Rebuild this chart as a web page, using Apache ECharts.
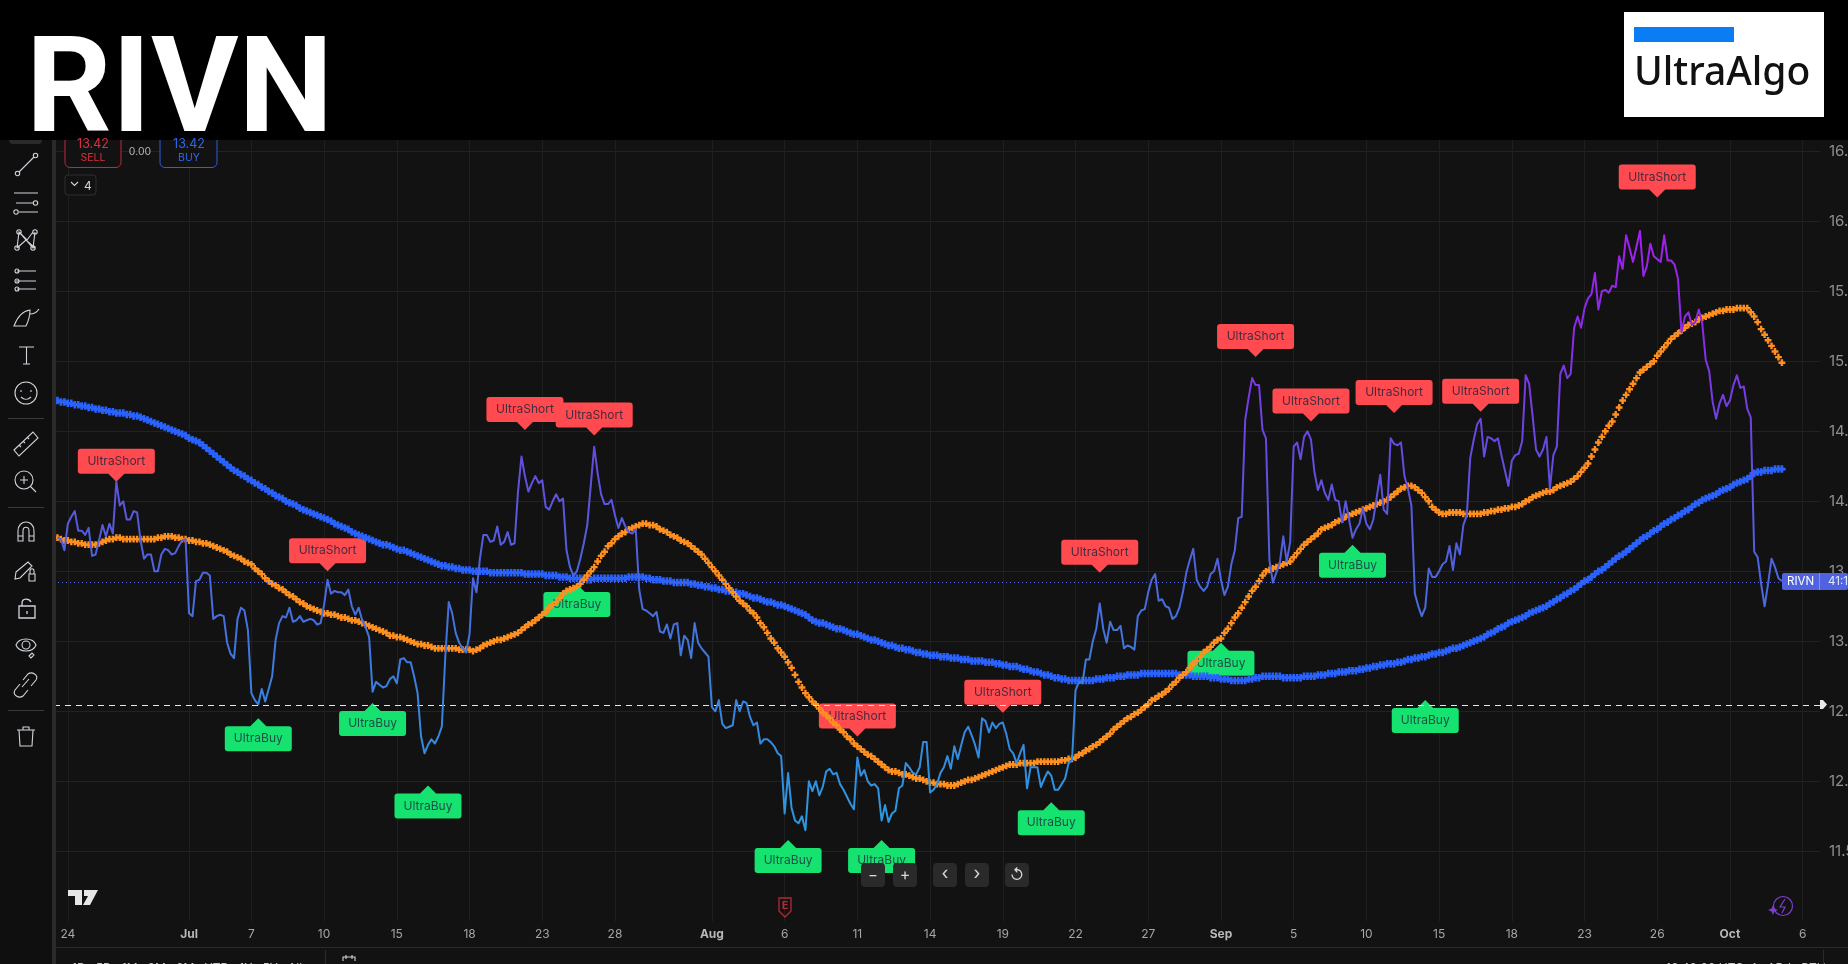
<!DOCTYPE html>
<html>
<head>
<meta charset="utf-8">
<style>html,body{margin:0;padding:0;background:#121212;overflow:hidden}#c{width:1848px;height:964px}</style>
<script src="https://cdn.jsdelivr.net/npm/echarts@6/dist/echarts.min.js"></script>
</head>
<body>
<div id="c"></div>
<script>
const barCount = 511;
const tickBars = [4,39,57,78,99,120,141,162,190,211,232,253,274,295,316,337,358,379,400,421,442,463,484,505];
const tickLabels = ['24','Jul','7','10','15','18','23','28','Aug','6','11','14','19','22','27','Sep','5','10','15','18','23','26','Oct','6'];
const monthLabels = ['Jul','Aug','Sep','Oct'];
const lastPrice = 13.42;
const crosshairPrice = 12.54;

// values start at bar 1 (bar 0 has no data)
const priceValues = [null,
13.74,13.73,13.65,13.84,13.89,13.93,13.79,13.79,13.76,13.81,
13.61,13.62,13.72,13.83,13.75,13.84,13.77,14.14,13.97,14.00,
13.87,13.87,13.93,13.92,13.72,13.59,13.62,13.62,13.50,13.50,
13.62,13.66,13.65,13.62,13.63,13.68,13.72,13.73,13.20,13.18,
13.43,13.44,13.49,13.49,13.47,13.16,13.18,13.19,13.18,12.99,
12.91,12.88,13.16,13.24,13.22,13.08,12.63,12.58,12.55,12.66,
12.57,12.66,12.75,13.01,13.13,13.18,13.17,13.24,13.14,13.15,
13.18,13.14,13.15,13.16,13.15,13.12,13.13,13.26,13.44,13.34,
13.36,13.35,13.35,13.33,13.37,13.25,13.19,13.24,13.15,13.10,
13.03,12.64,12.71,12.69,12.67,12.68,12.73,12.75,12.70,12.87,
12.88,12.85,12.85,12.75,12.63,12.32,12.20,12.26,12.30,12.27,
12.32,12.39,12.89,13.28,13.20,13.06,12.99,12.95,12.92,13.05,
13.45,13.35,13.59,13.76,13.76,13.71,13.72,13.82,13.69,13.71,
13.78,13.69,13.70,14.07,14.32,14.18,14.07,14.13,14.18,14.13,
14.15,13.96,13.94,14.00,14.05,14.00,14.02,13.65,13.53,13.47,
13.50,13.59,13.70,13.83,14.11,14.39,14.20,14.05,13.98,13.98,
14.01,13.90,13.81,13.88,13.82,13.78,13.77,13.80,13.37,13.23,
13.22,13.20,13.18,13.21,13.07,13.06,13.12,13.02,13.12,13.13,
12.90,13.04,13.01,12.88,13.13,12.99,12.95,12.92,12.89,12.53,
12.50,12.58,12.41,12.38,12.39,12.40,12.58,12.50,12.57,12.56,
12.46,12.40,12.42,12.27,12.30,12.30,12.28,12.25,12.20,12.18,
11.77,12.06,11.81,11.72,11.70,11.75,11.65,12.00,11.93,12.00,
11.90,11.96,12.07,12.09,12.05,12.06,11.98,11.94,11.89,11.84,
11.80,12.17,12.04,12.08,12.00,11.97,11.98,11.95,11.72,11.83,
11.71,11.77,11.79,11.95,11.97,12.13,12.10,12.06,12.05,12.10,
12.28,12.28,11.92,11.94,11.98,12.06,12.10,12.18,12.09,12.25,
12.16,12.26,12.35,12.39,12.33,12.26,12.17,12.45,12.43,12.35,
12.42,12.38,12.41,12.42,12.34,12.23,12.20,12.13,12.20,12.26,
11.95,12.10,12.10,12.10,11.96,12.02,12.07,12.04,11.94,11.94,
11.98,12.02,12.13,12.15,12.65,12.71,12.70,12.87,12.87,13.00,
13.09,13.27,13.09,12.99,13.14,13.08,13.08,13.11,12.95,12.97,
12.96,12.94,13.18,13.22,13.23,13.35,13.44,13.48,13.29,13.30,
13.25,13.24,13.16,13.18,13.24,13.35,13.49,13.58,13.66,13.44,
13.39,13.36,13.39,13.48,13.50,13.59,13.44,13.33,13.39,13.55,
13.65,13.88,13.89,14.58,14.74,14.88,14.83,14.83,14.51,14.45,
13.58,13.42,13.49,13.56,13.75,13.57,13.71,14.39,14.42,14.30,
14.46,14.50,14.44,14.21,14.08,14.15,14.06,14.01,14.12,14.01,
14.00,13.85,14.00,13.87,13.74,13.80,13.84,13.95,13.84,13.80,
13.87,14.03,14.19,13.94,13.91,14.45,14.41,14.40,14.42,14.18,
14.09,13.97,13.34,13.25,13.18,13.24,13.52,13.46,13.46,13.50,
13.55,13.57,13.68,13.51,13.70,13.62,13.83,13.90,14.31,14.44,
14.55,14.59,14.32,14.46,14.45,14.43,14.45,14.33,14.22,14.11,
14.29,14.33,14.34,14.43,14.90,14.84,14.61,14.37,14.32,14.37,
14.46,14.09,14.33,14.39,14.91,14.97,14.88,14.91,15.24,15.32,
15.24,15.38,15.45,15.48,15.63,15.37,15.50,15.51,15.49,15.54,
15.53,15.75,15.66,15.90,15.81,15.71,15.82,15.93,15.61,15.68,
15.84,15.75,15.73,15.71,15.90,15.72,15.72,15.69,15.59,15.21,
15.32,15.35,15.26,15.28,15.37,15.27,15.01,14.93,14.71,14.59,
14.70,14.76,14.68,14.72,14.83,14.90,14.81,14.82,14.66,14.60,
13.64,13.60,13.41,13.25,13.41,13.59,13.53,13.45,13.43];

const blueValues = [null,
14.72,14.71,14.71,14.70,14.70,14.69,14.69,14.68,14.68,14.67,
14.67,14.66,14.66,14.65,14.65,14.64,14.64,14.63,14.63,14.63,
14.62,14.62,14.61,14.61,14.60,14.59,14.58,14.57,14.56,14.55,
14.54,14.53,14.52,14.51,14.50,14.49,14.48,14.47,14.45,14.44,
14.43,14.42,14.40,14.38,14.36,14.34,14.32,14.30,14.28,14.26,
14.24,14.22,14.21,14.19,14.18,14.16,14.15,14.13,14.12,14.10,
14.09,14.07,14.06,14.04,14.03,14.02,14.00,13.99,13.98,13.97,
13.95,13.94,13.93,13.92,13.91,13.90,13.89,13.88,13.87,13.86,
13.84,13.83,13.82,13.81,13.80,13.78,13.77,13.76,13.75,13.74,
13.73,13.72,13.71,13.70,13.69,13.69,13.68,13.67,13.66,13.65,
13.65,13.64,13.63,13.62,13.61,13.60,13.59,13.58,13.57,13.56,
13.55,13.54,13.54,13.53,13.53,13.52,13.52,13.51,13.51,13.51,
13.50,13.50,13.50,13.50,13.50,13.49,13.49,13.49,13.49,13.49,
13.49,13.49,13.49,13.49,13.49,13.48,13.48,13.48,13.48,13.48,
13.48,13.47,13.47,13.47,13.47,13.46,13.46,13.46,13.45,13.45,
13.45,13.45,13.45,13.44,13.44,13.45,13.45,13.45,13.45,13.45,
13.45,13.45,13.45,13.45,13.45,13.46,13.46,13.46,13.46,13.46,
13.45,13.45,13.44,13.44,13.44,13.43,13.43,13.43,13.42,13.42,
13.42,13.42,13.42,13.41,13.41,13.40,13.40,13.39,13.39,13.38,
13.38,13.37,13.37,13.36,13.36,13.35,13.35,13.34,13.34,13.33,
13.32,13.31,13.31,13.30,13.29,13.28,13.28,13.27,13.26,13.26,
13.25,13.24,13.23,13.22,13.21,13.20,13.19,13.17,13.15,13.14,
13.13,13.13,13.12,13.11,13.10,13.09,13.09,13.08,13.07,13.06,
13.05,13.05,13.04,13.03,13.02,13.01,13.01,13.00,12.99,12.98,
12.97,12.97,12.96,12.95,12.95,12.94,12.94,12.93,12.92,12.92,
12.91,12.91,12.90,12.90,12.90,12.89,12.89,12.89,12.88,12.88,
12.88,12.87,12.87,12.87,12.86,12.86,12.86,12.86,12.85,12.85,
12.85,12.84,12.84,12.83,12.83,12.82,12.82,12.82,12.81,12.80,
12.80,12.79,12.78,12.78,12.77,12.76,12.76,12.75,12.74,12.74,
12.73,12.73,12.72,12.72,12.72,12.72,12.72,12.72,12.72,12.72,
12.73,12.73,12.73,12.74,12.74,12.74,12.75,12.75,12.75,12.76,
12.76,12.76,12.76,12.77,12.77,12.77,12.77,12.77,12.77,12.77,
12.77,12.77,12.77,12.77,12.76,12.76,12.76,12.76,12.75,12.75,
12.75,12.75,12.75,12.74,12.74,12.74,12.73,12.73,12.73,12.72,
12.72,12.72,12.72,12.72,12.73,12.73,12.74,12.74,12.75,12.75,
12.75,12.75,12.75,12.75,12.74,12.74,12.74,12.74,12.74,12.74,
12.75,12.75,12.75,12.75,12.76,12.76,12.76,12.77,12.77,12.77,
12.78,12.78,12.78,12.79,12.79,12.79,12.80,12.80,12.81,12.81,
12.82,12.82,12.83,12.83,12.84,12.84,12.84,12.85,12.85,12.86,
12.87,12.87,12.88,12.88,12.89,12.89,12.90,12.91,12.91,12.92,
12.92,12.93,12.94,12.95,12.95,12.96,12.97,12.98,12.99,13.00,
13.01,13.02,13.03,13.05,13.06,13.07,13.09,13.10,13.11,13.13,
13.14,13.15,13.16,13.17,13.18,13.20,13.21,13.22,13.23,13.24,
13.25,13.27,13.28,13.30,13.31,13.33,13.34,13.36,13.37,13.39,
13.41,13.43,13.44,13.46,13.48,13.50,13.51,13.53,13.55,13.57,
13.59,13.61,13.62,13.64,13.66,13.68,13.70,13.72,13.74,13.75,
13.77,13.79,13.80,13.82,13.84,13.85,13.87,13.88,13.90,13.91,
13.93,13.94,13.96,13.98,13.99,14.01,14.02,14.03,14.04,14.05,
14.07,14.08,14.09,14.10,14.12,14.13,14.14,14.15,14.16,14.18,
14.20,14.21,14.21,14.22,14.22,14.22,14.23,14.23,14.23];

const orangeValues = [null,
13.74,13.73,13.72,13.72,13.71,13.71,13.70,13.70,13.69,13.69,
13.69,13.69,13.70,13.71,13.72,13.73,13.73,13.74,13.74,13.73,
13.73,13.73,13.73,13.73,13.73,13.73,13.73,13.73,13.73,13.74,
13.74,13.75,13.75,13.75,13.74,13.74,13.73,13.73,13.72,13.72,
13.71,13.71,13.70,13.70,13.69,13.68,13.67,13.66,13.65,13.64,
13.62,13.61,13.60,13.59,13.57,13.56,13.55,13.52,13.50,13.48,
13.45,13.43,13.41,13.40,13.38,13.37,13.35,13.33,13.32,13.30,
13.28,13.27,13.25,13.24,13.23,13.22,13.21,13.20,13.20,13.19,
13.19,13.18,13.17,13.17,13.16,13.15,13.15,13.14,13.13,13.12,
13.11,13.10,13.09,13.08,13.07,13.06,13.04,13.04,13.03,13.03,
13.02,13.01,13.00,12.99,12.98,12.98,12.97,12.97,12.96,12.95,
12.95,12.95,12.95,12.95,12.95,12.95,12.94,12.94,12.94,12.94,
12.93,12.94,12.95,12.97,12.98,12.99,13.00,13.01,13.01,13.02,
13.03,13.04,13.05,13.06,13.08,13.10,13.12,13.13,13.15,13.17,
13.19,13.21,13.24,13.26,13.28,13.31,13.34,13.36,13.37,13.38,
13.39,13.41,13.44,13.47,13.50,13.53,13.57,13.61,13.64,13.68,
13.70,13.73,13.75,13.77,13.78,13.80,13.81,13.82,13.83,13.84,
13.84,13.83,13.83,13.82,13.80,13.79,13.78,13.76,13.75,13.74,
13.72,13.71,13.70,13.68,13.66,13.64,13.62,13.59,13.56,13.53,
13.50,13.47,13.44,13.41,13.38,13.35,13.32,13.29,13.27,13.25,
13.22,13.20,13.17,13.13,13.10,13.06,13.02,12.99,12.95,12.92,
12.89,12.85,12.81,12.76,12.71,12.67,12.63,12.60,12.57,12.55,
12.52,12.49,12.47,12.45,12.42,12.40,12.37,12.35,12.32,12.30,
12.27,12.25,12.23,12.21,12.19,12.18,12.16,12.14,12.12,12.10,
12.08,12.07,12.07,12.06,12.05,12.05,12.04,12.03,12.02,12.02,
12.01,12.00,11.99,11.99,11.98,11.98,11.98,11.97,11.97,11.97,
11.98,11.99,12.00,12.01,12.01,12.02,12.03,12.04,12.05,12.06,
12.07,12.08,12.09,12.10,12.11,12.12,12.12,12.12,12.13,12.13,
12.13,12.13,12.13,12.14,12.14,12.14,12.14,12.14,12.14,12.14,
12.15,12.15,12.16,12.16,12.17,12.19,12.20,12.22,12.23,12.25,
12.26,12.28,12.30,12.32,12.34,12.37,12.39,12.41,12.43,12.45,
12.46,12.48,12.49,12.51,12.53,12.55,12.58,12.59,12.61,12.62,
12.64,12.66,12.69,12.71,12.74,12.76,12.78,12.81,12.84,12.86,
12.89,12.92,12.94,12.96,12.99,13.01,13.02,13.06,13.09,13.13,
13.17,13.20,13.24,13.28,13.32,13.36,13.39,13.43,13.47,13.50,
13.51,13.52,13.53,13.54,13.55,13.56,13.57,13.60,13.63,13.66,
13.69,13.71,13.73,13.75,13.77,13.80,13.81,13.82,13.83,13.85,
13.86,13.87,13.89,13.90,13.91,13.92,13.93,13.94,13.95,13.96,
13.97,13.98,13.99,14.00,14.01,14.03,14.05,14.07,14.09,14.10,
14.11,14.11,14.10,14.08,14.06,14.03,14.00,13.96,13.94,13.92,
13.91,13.91,13.92,13.92,13.92,13.92,13.91,13.91,13.91,13.91,
13.91,13.91,13.92,13.92,13.93,13.93,13.94,13.94,13.95,13.95,
13.96,13.96,13.97,13.98,14.00,14.01,14.03,14.04,14.05,14.06,
14.07,14.07,14.08,14.10,14.11,14.12,14.13,14.14,14.16,14.18,
14.21,14.24,14.27,14.32,14.37,14.42,14.46,14.50,14.54,14.57,
14.62,14.67,14.72,14.76,14.80,14.84,14.88,14.92,14.94,14.96,
14.98,15.00,15.04,15.07,15.10,15.13,15.16,15.18,15.20,15.22,
15.24,15.26,15.27,15.28,15.30,15.31,15.32,15.33,15.34,15.35,
15.36,15.36,15.37,15.37,15.37,15.38,15.38,15.38,15.38,15.35,
15.32,15.28,15.23,15.19,15.15,15.11,15.07,15.03,14.99];

const shortBars = [18,136,156,79,232,274,302,347,363,387,412,463];
const shortValues = [14.14,14.51,14.47,13.50,12.32,12.49,13.49,15.03,14.57,14.63,14.64,16.17];
const buyBars = [59,92,108,151,212,239,288,337,375,396];
const buyValues = [12.45,12.56,11.97,13.41,11.58,11.58,11.85,12.99,13.69,12.58];

const categories = [];
for (let i = 0; i < barCount; i++) { const k = tickBars.indexOf(i); categories.push(k >= 0 ? tickLabels[k] : ''); }

const plus = 'path://M1.6,0h1.8v1.6h1.6v1.8h-1.6v1.6h-1.8v-1.6h-1.6v-1.8h1.6z';
const shortShape = 'path://M3,0H74Q77,0 77,3V22Q77,25 74,25H46.5L38.5,33L30.5,25H3Q0,25 0,22V3Q0,0 3,0Z';
const buyShape = 'path://M33.5,0L41.5,8H64Q67,8 67,11V30Q67,33 64,33H3Q0,33 0,30V11Q0,8 3,8H25.5Z';
const ff = 'Inter, Roboto, sans-serif';
const grey = '#d1d4dc';

let shapeCount = 0;
function pathEl(d, z, style) {
  const name = 'decor' + (shapeCount++);
  echarts.graphic.registerShape(name, echarts.graphic.extendPath(d));
  return {type:name, z:z, silent:true, shape:{}, style:style};
}
function icon(d, w) { return pathEl(d, 950, {fill:'none', stroke:grey, lineWidth:w||1.1}); }
function txt(t, x, y, fs, col, extra) {
  return {type:'text', z:950, x, y, silent:true, style:Object.assign({text:t, fontSize:fs, fill:col, fontFamily:ff, align:'left', verticalAlign:'middle'}, extra||{})};
}
function box(x, y, w, h, fill, stroke, r, z) {
  return {type:'rect', z:z||940, silent:true, shape:{x, y, width:w, height:h, r:r===undefined?4:r}, style:{fill:fill, stroke:stroke||'none', lineWidth:1}};
}
const circ = (x,y,r)=>`M${x-r},${y}a${r},${r} 0 1,0 ${2*r},0a${r},${r} 0 1,0 ${-2*r},0`;

const graphics = [
  box(0,0,1848,140,'#000000','none',0,900),
  box(1624,12,200,105,'#ffffff','none',0,950),
  box(1634,27,100,15,'#0a7df5','none',0,951),
  {type:'text', z:951, x:1634, y:74, silent:true, style:{text:'UltraAlgo', fontSize:39, fontFamily:'"Noto Sans", sans-serif', fontWeight:500, fill:'#111', align:'left', verticalAlign:'middle'}},
  box(0,140,52,824,'#0f0f0f','none',0,800),
  box(52,140,4,824,'#2a2a2a','none',0,801),
  box(9,130,33,14,'#2a2a2a','none',4,810),
  box(56,947,1792,1,'#2a2a2a','none',0,800),
  box(56,948,1792,16,'#121212','none',0,799),
  box(65,120,56,47.5,'#121212','#c2283a',5,850),
  txt('13.42',93,144,12.5,'#d8303f',{align:'center'}),
  txt('SELL',93,158,10.5,'#d8303f',{align:'center'}),
  txt('0.00',140,152,10.5,'#b4b4b4',{align:'center'}),
  box(160,120,57,47.5,'#121212','#2a5fdd',5,850),
  txt('13.42',189,144,12.5,'#2f66e8',{align:'center'}),
  txt('BUY',189,158,10.5,'#2f66e8',{align:'center'}),
  box(65,175,31,20,'#121212','#2e2e2e',3,850),
  icon('M71,182l3.5,3.5l3.5,-3.5'),
  txt('4',84,186,12,'#d1d4dc'),
  icon('M19,172L34,157'+circ(17.5,173.5,2.2)+circ(35.5,155.5,2.2)),
  icon('M14,193H38M16,203H33M19,212H38'+circ(35.5,203,2.2)+circ(16,212,2.2)),
  icon('M17,248L19,232L33,248L35,232M19,232L27,240L33,232M17,248L26,240L35,248'+circ(17,248,2.2)+circ(19,232,2.2)+circ(33,248,2.2)+circ(35,232,2.2)),
  icon('M17,271H36M16,281H36M17,289H36'+circ(17,271,2)+circ(17,281,2)+circ(17,289,2)),
  icon('M14,326H26C29,320 30,316 30,310C22,311 17,318 14,326ZM30,314C33,314 37,312 39,309'),
  icon('M19,347H34M26.5,347V364M23,364H30'),
  icon(circ(26,393,11)+'M21,390v2M31,390v2M21,397C24,400 28,400 31,397'),
  box(8,418,36,1,'#3a3a3a','none',0,950),
  icon('M14,450L33,432L38,438L19,456ZM19,445l2,2M23,441l2,2M27,437l2,2'),
  icon(circ(24,480,9)+'M30.5,486.5L36,492M24,476v8M20,480h8'),
  box(8,507,36,1,'#3a3a3a','none',0,950),
  icon('M18,541V531C18,519 34,519 34,531V541H29V531C29,526 23,526 23,531V541ZM18,536H23M29,536H34'),
  icon('M16,572L28,562L32,566L20,578L15,579ZM29,574H35V581H29ZM30,574V571C30,568 34,568 34,571V574'),
  icon('M19,606H35V618H19ZM22,606V603C22,598 29,598 31,602M27,611v3',1.3),
  icon('M16,645C19,637 33,637 36,645C33,653 19,653 16,645Z'+circ(26,645,4)+'M29,656l3,-3l2,2l-3,3z'),
  icon('M20,684L15,690C12,695 19,699 23,696L28,690M31,686L36,680C39,675 32,671 28,674L23,680M22,687L29,679'),
  box(8,710,36,1,'#3a3a3a','none',0,950),
  icon('M19,730H33L32,746H20ZM17,730H35M23,730V727H29V730'),
  pathEl('M68,890H82V905H75V896H68ZM84,890H98L90,905H83L88,896H84Z', 700, {fill:'#e6e6e6'}),
  pathEl('M779,898H791V911L785,917L779,911Z', 700, {fill:'none', stroke:'#b22833', lineWidth:1.3}),
  txt('E',785,906,11,'#b22833',{align:'center',fontWeight:700}),
  box(861,863,24,24,'#2a2a2a'), txt('\u2212',873,875,15,'#d8d8d8',{align:'center'}),
  box(893,863,24,24,'#2a2a2a'), txt('+',905,875,16,'#d8d8d8',{align:'center'}),
  box(933,863,24,24,'#2a2a2a'), txt('\u2039',945,874,18,'#d8d8d8',{align:'center'}),
  box(965,863,24,24,'#2a2a2a'), txt('\u203A',977,874,18,'#d8d8d8',{align:'center'}),
  box(1005,863,24,24,'#2a2a2a'), txt('\u21BA',1017,875,15,'#d8d8d8',{align:'center'}),
  pathEl(circ(1783,906,9.5)+'M1785,899L1780,907H1785L1782,913', 700, {fill:'none', stroke:'#7b3fd0', lineWidth:1.2}),
  pathEl('M1773,905l1.5,3.5l3.5,1.5l-3.5,1.5l-1.5,3.5l-1.5,-3.5l-3.5,-1.5l3.5,-1.5z', 700, {fill:'#7b3fd0'}),
  box(1782,573,66,17,'#4f63e0','none',2,700),
  box(1819,573,1,17,'#8794ea','none',0,701),
  txt('RIVN',1787,582,11.5,'#ffffff'),
  txt('41:12',1828,582,11.5,'#e8ebff'),
  pathEl('M1820,700H1823L1827,704.5L1823,709H1820Z', 700, {fill:'#e8e8e8'}),
  txt('1D   5D   1M   3M   6M   YTD   1Y   5Y   All',72,968,12,'#c8c8c8'),
  box(325,950,1,14,'#2a2a2a','none',0,950),
  icon('M343,961V957H355V961M346,955V959M352,955V959'),
  txt('16:48:08 UTC-4   ADJ   RTH',1666,968,12,'#c8c8c8'),
  box(1823,950,1,14,'#2a2a2a','none',0,950)
];

const chart = echarts.init(document.getElementById('c'), null, {renderer:'canvas'});
chart.setOption({
  animation:false,
  backgroundColor:'#121212',
  title:{text:'RIVN', left:21, top:25, z:1000, textStyle:{color:'#ffffff', fontSize:134, fontWeight:'bold', fontFamily:'Roboto, "Liberation Sans", sans-serif', lineHeight:134}},
  grid:{left:54, right:28, top:81.3, bottom:42.7, containLabel:false, outerBoundsMode:'none'},
  xAxis:{
    type:'category', data:categories, boundaryGap:false,
    axisLine:{show:false}, axisTick:{show:false},
    splitLine:{show:true, interval:(i,v)=>v!=='', lineStyle:{color:'#1f1f1f', width:1}},
    axisLabel:{
      interval:(i,v)=>v!=='', margin:7, fontFamily:ff, fontSize:12, color:'#a6a6a6',
      formatter:v=>monthLabels.includes(v)?`{m|${v}}`:v,
      rich:{m:{fontWeight:700, fontSize:12, color:'#b8b8b8', fontFamily:ff}}
    }
  },
  yAxis:{
    type:'value', min:11, max:17, interval:0.5, position:'right',
    axisLine:{show:false}, axisTick:{show:false},
    splitLine:{show:true, showMinLine:false, lineStyle:{color:'#222222', width:1}},
    axisLabel:{margin:9, showMinLabel:false, showMaxLabel:false, fontFamily:ff, fontSize:15, color:'#8f8f8f', formatter:v=>v.toFixed(2)}
  },
  graphic:{elements:graphics},
  series:[
    {type:'scatter', name:'UltraShort', z:1, silent:true,
     data:shortBars.map((b,i)=>[b,shortValues[i]]),
     symbol:shortShape, symbolSize:[77,33], symbolOffset:[0,'-50%'], itemStyle:{color:'#ff4a50', opacity:1},
     label:{show:true, position:'inside', formatter:'UltraShort', offset:[0,-4], color:'#4a2a3c', textBorderWidth:0, fontFamily:ff, fontSize:12}},
    {type:'scatter', name:'UltraBuy', z:1, silent:true,
     data:buyBars.map((b,i)=>[b,buyValues[i]]),
     symbol:buyShape, symbolSize:[67,33], symbolOffset:[0,'50%'], itemStyle:{color:'#16e26f', opacity:1},
     label:{show:true, position:'inside', formatter:'UltraBuy', offset:[0,4], color:'#1d5048', textBorderWidth:0, fontFamily:ff, fontSize:12}},
    {type:'line', name:'Slow MA', z:3, silent:true, data:blueValues, showSymbol:true, showAllSymbol:true,
     symbol:plus, symbolSize:7.5, lineStyle:{width:0}, itemStyle:{color:'#2962ff'}},
    {type:'line', name:'Fast MA', z:4, silent:true, data:orangeValues, showSymbol:true, showAllSymbol:true,
     symbol:plus, symbolSize:6.8, lineStyle:{width:0}, itemStyle:{color:'#ff8f1f'}},
    {type:'line', name:'RIVN', z:5, silent:true, data:priceValues, showSymbol:false, connectNulls:false,
     lineStyle:{width:2, join:'round', color:{type:'linear', x:0, y:0, x2:0, y2:1, colorStops:[
       {offset:0, color:'#a31ff0'},{offset:0.17, color:'#8a2be6'},{offset:0.33, color:'#6b45e0'},
       {offset:0.55, color:'#4f62dd'},{offset:0.75, color:'#3a7fdd'},{offset:1, color:'#2a9be0'}]}},
     markLine:{silent:true, symbol:'none', animation:false, label:{show:false}, data:[
       {yAxis:lastPrice, lineStyle:{type:[1,3], color:'#5c6be0', width:1}},
       {yAxis:crosshairPrice, lineStyle:{type:[6,5], color:'#e6e6e6', width:1}}
     ]}}
  ]
});
</script>
</body>
</html>
